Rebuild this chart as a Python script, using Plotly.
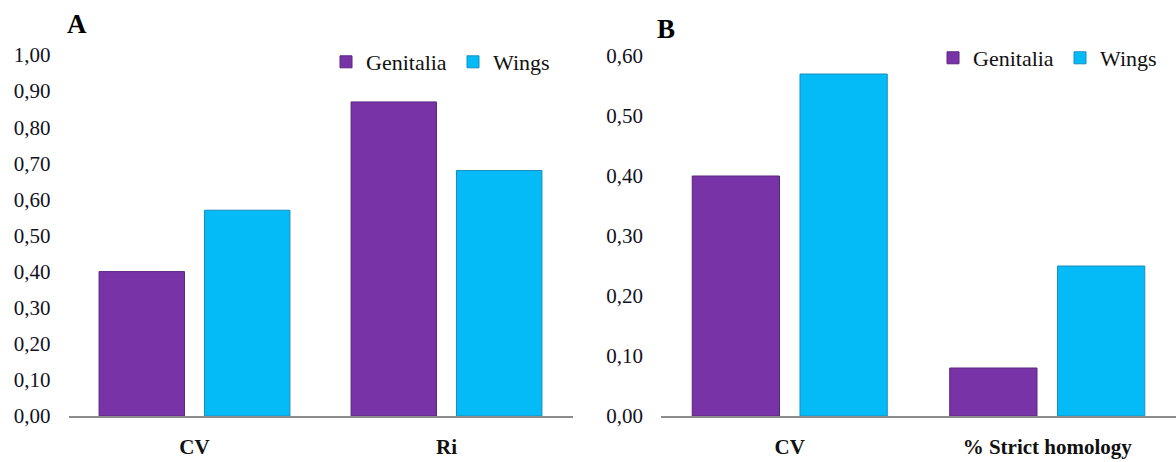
import plotly.graph_objects as go

# Panel A data
cats_a = ["CV", "Ri"]
genitalia_a = [0.40, 0.87]
wings_a = [0.57, 0.68]

# Panel B data
cats_b = ["CV", "% Strict homology"]
genitalia_b = [0.40, 0.08]
wings_b = [0.57, 0.25]

ticks_a = [0.0, 0.1, 0.2, 0.3, 0.4, 0.5, 0.6, 0.7, 0.8, 0.9, 1.0]
ticks_b = [0.0, 0.1, 0.2, 0.3, 0.4, 0.5, 0.6]

PURPLE = "#7834A6"
PURPLE_EDGE = "#5B2682"
CYAN = "#05BBF7"
CYAN_EDGE = "#1A8DBF"
SERIF = "Liberation Serif"

W, H = 1176, 462

fig = go.Figure()

fig.add_trace(go.Bar(x=cats_a, y=genitalia_a, name="Genitalia", xaxis="x", yaxis="y",
                     marker=dict(color=PURPLE, line=dict(color=PURPLE_EDGE, width=1)),
                     legend="legend"))
fig.add_trace(go.Bar(x=cats_a, y=wings_a, name="Wings", xaxis="x", yaxis="y",
                     marker=dict(color=CYAN, line=dict(color=CYAN_EDGE, width=1)),
                     legend="legend"))
fig.add_trace(go.Bar(x=cats_b, y=genitalia_b, name="Genitalia", xaxis="x2", yaxis="y2",
                     marker=dict(color=PURPLE, line=dict(color=PURPLE_EDGE, width=1)),
                     legend="legend2"))
fig.add_trace(go.Bar(x=cats_b, y=wings_b, name="Wings", xaxis="x2", yaxis="y2",
                     marker=dict(color=CYAN, line=dict(color=CYAN_EDGE, width=1)),
                     legend="legend2"))

def px_x(p):
    return p / W

def px_y(p):
    return (H - p) / H

base_y = 416
xaxis_common = dict(
    type="category", showgrid=False, zeroline=False, showline=True,
    linecolor="#8c8c8c", linewidth=1.5, ticks="",
    tickfont=dict(family=SERIF, size=21, color="#111111", weight="bold"),
    ticklabelstandoff=11,
)
yaxis_common = dict(
    showgrid=False, zeroline=False, showline=False, ticks="",
    tickformat=".2f", tickfont=dict(family=SERIF, size=21, color="#111122"),
    ticklabelstandoff=17,
)

legend_common = dict(
    orientation="h", font=dict(family=SERIF, size=22, color="#111111"),
    bgcolor="rgba(0,0,0,0)", entrywidth=82, entrywidthmode="pixels",
    xanchor="left", yanchor="middle", itemclick=False, itemdoubleclick=False,
)

fig.update_layout(
    width=W, height=H,
    margin=dict(l=0, r=0, t=0, b=0, autoexpand=False),
    paper_bgcolor="white", plot_bgcolor="white",
    barmode="group", bargap=0.163, bargroupgap=0.19,
    separators=",.",
    xaxis=dict(domain=[px_x(68.5), px_x(572.5)], anchor="y", **xaxis_common),
    yaxis=dict(domain=[px_y(base_y), px_y(55)], range=[0, 1.0], tickvals=ticks_a,
               anchor="x", **yaxis_common),
    xaxis2=dict(domain=[px_x(661), 1.0], anchor="y2", **xaxis_common),
    yaxis2=dict(domain=[px_y(base_y), px_y(56)], range=[0, 0.6], tickvals=ticks_b,
                anchor="x2", **yaxis_common),
    legend=dict(x=px_x(326), y=px_y(62), **legend_common),
    legend2=dict(x=px_x(933), y=px_y(58), **legend_common),
    showlegend=True,
    annotations=[
        dict(text="<b>A</b>", x=px_x(77), y=px_y(24), xref="paper", yref="paper",
             xanchor="center", yanchor="middle",
             showarrow=False, font=dict(family=SERIF, size=27, color="black")),
        dict(text="<b>B</b>", x=px_x(666), y=px_y(29), xref="paper", yref="paper",
             xanchor="center", yanchor="middle",
             showarrow=False, font=dict(family=SERIF, size=27, color="black")),
    ],
)

fig.write_html("out.html", config={"displayModeBar": False},
               post_script="document.body.style.margin='0';document.body.style.overflow='hidden';")
